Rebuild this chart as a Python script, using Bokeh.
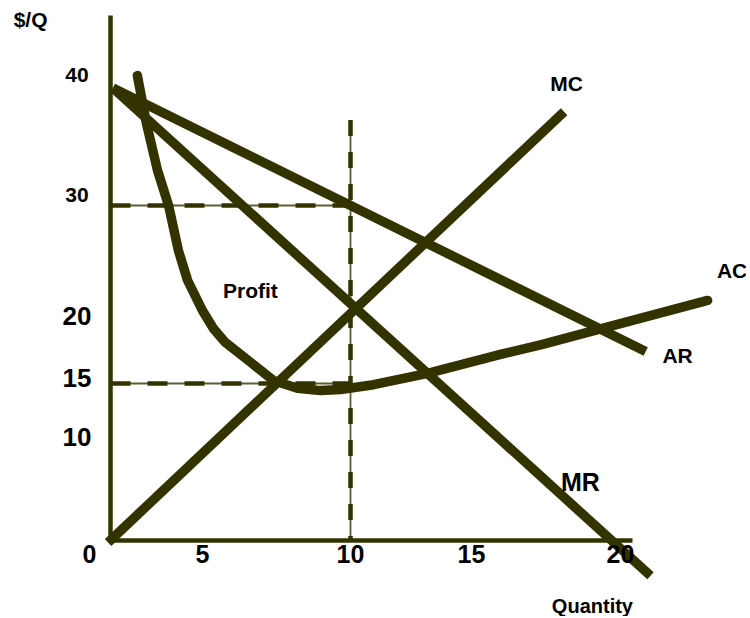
from bokeh.plotting import figure
from bokeh.models import Range1d, ColumnDataSource
from bokeh.core.properties import value
from bokeh.embed import file_html
from bokeh.resources import INLINE

# ---- data (Quantity, $/Q) ----
Q_AR = [0.1, 22.3]
P_AR = [39.9, 17.7]
Q_MR = [0.1, 22.5]
P_MR = [39.9, -1.2]
Q_MC = [-0.1, 18.9]
P_MC = [1.6, 37.9]
Q_AC = [1.12, 1.5, 1.96, 2.42, 2.83, 3.21, 3.83, 4.3, 4.79, 5.83, 6.79, 7.79, 8.75, 9.58,
        10.96, 13.21, 16.25, 17.92, 20.42, 24.88]
P_AC = [40.95, 36.9, 32.95, 30.0, 26.2, 23.7, 21.15, 19.6, 18.45, 16.8, 15.25, 14.6, 14.4, 14.5,
        14.9, 15.85, 17.45, 18.25, 19.6, 22.0]

Q_STAR = 10      # profit-maximising quantity
P_STAR = 30      # price at Q*
AC_STAR = 15     # average cost at Q*
VDASH_TOP = 37.2
AXIS_BASE = 1.77  # where the drawn axes cross
AXIS_TOP = 46.0
AXIS_RIGHT = 21.75

# tick labels (text) and where they sit
Y_LABELS = ["40", "30", "20", "15", "10"]
Y_LABEL_POS = [41.0, 30.88, 20.65, 15.46, 10.53]
Y_LABEL_SIZE = ["21px", "21px", "26px", "26px", "26px"]
X_LABELS = ["0", "5", "10", "15", "20"]
X_LABEL_POS = [-0.875, 3.83, 10.0, 15.04, 21.25]

CURVE_LABELS = ["MC", "AC", "AR", "MR", "Profit"]
CURVE_LABEL_Q = [19.0, 25.9, 23.63, 19.58, 5.83]
CURVE_LABEL_P = [40.24, 24.48, 17.32, 6.66, 22.84]
CURVE_LABEL_SIZE = ["21px", "21px", "21px", "25px", "21px"]

COL = "#333300"
FONT = value("Liberation Sans")

W, H = 746, 616
p = figure(width=W, height=H, output_backend="svg", toolbar_location=None,
           x_range=Range1d(-110 / 24, (W - 110) / 24),
           y_range=Range1d((561 - H) / 11.867, 561 / 11.867),
           min_border=0, outline_line_color=None)
p.axis.visible = False
p.grid.visible = False
p.background_fill_color = "white"
p.border_fill_color = "white"

# axes drawn as lines
p.line([0, 0], [AXIS_BASE - 0.1, AXIS_TOP], line_color=COL, line_width=4.5)
p.line([-0.08, AXIS_RIGHT], [AXIS_BASE, AXIS_BASE], line_color=COL, line_width=4.5)

# dashed guide lines (thin solid underlay + thick dashes)
for xs, ys, dash in [([0, Q_STAR], [P_STAR, P_STAR], "20 17"),
                     ([0, Q_STAR], [AC_STAR, AC_STAR], "20 17"),
                     ([Q_STAR, Q_STAR], [VDASH_TOP, AXIS_BASE], "16 16")]:
    p.line(xs, ys, line_color=COL, line_width=1.8, line_alpha=0.8)
    p.line(xs, ys, line_color=COL, line_width=4.5, line_dash=dash)

# curves
p.line(Q_AR, P_AR, line_color=COL, line_width=9.5, line_cap="butt")
p.line(Q_MR, P_MR, line_color=COL, line_width=9.5, line_cap="butt")
p.line(Q_MC, P_MC, line_color=COL, line_width=9.5, line_cap="butt")
p.line(Q_AC, P_AC, line_color=COL, line_width=9.5, line_cap="round", line_join="round")

# texts
ylab = ColumnDataSource(dict(x=[-1.4] * len(Y_LABELS), y=Y_LABEL_POS, t=Y_LABELS, s=Y_LABEL_SIZE))
p.text("x", "y", text="t", source=ylab, text_font=FONT, text_font_style="bold",
       text_font_size="s", text_align="center", text_baseline="middle", text_color="black")
xlab = ColumnDataSource(dict(x=X_LABEL_POS, y=[0.59] * len(X_LABELS), t=X_LABELS))
p.text("x", "y", text="t", source=xlab, text_font=FONT, text_font_style="bold",
       text_font_size="25px", text_align="center", text_baseline="middle", text_color="black")
clab = ColumnDataSource(dict(x=CURVE_LABEL_Q, y=CURVE_LABEL_P, t=CURVE_LABELS, s=CURVE_LABEL_SIZE))
p.text("x", "y", text="t", source=clab, text_font=FONT, text_font_style="bold",
       text_font_size="s", text_align="center", text_baseline="middle", text_color="black")

p.text([-3.33], [45.67], text=["$/Q"], text_font=FONT, text_font_style="bold",
       text_font_size="21px", text_align="center", text_baseline="middle", text_color="black")
p.text([20.08], [-3.79], text=["Quantity"], text_font=FONT, text_font_style="bold",
       text_font_size="20px", text_align="center", text_baseline="middle", text_color="black")

open("out.html", "w").write(file_html(p, INLINE))
